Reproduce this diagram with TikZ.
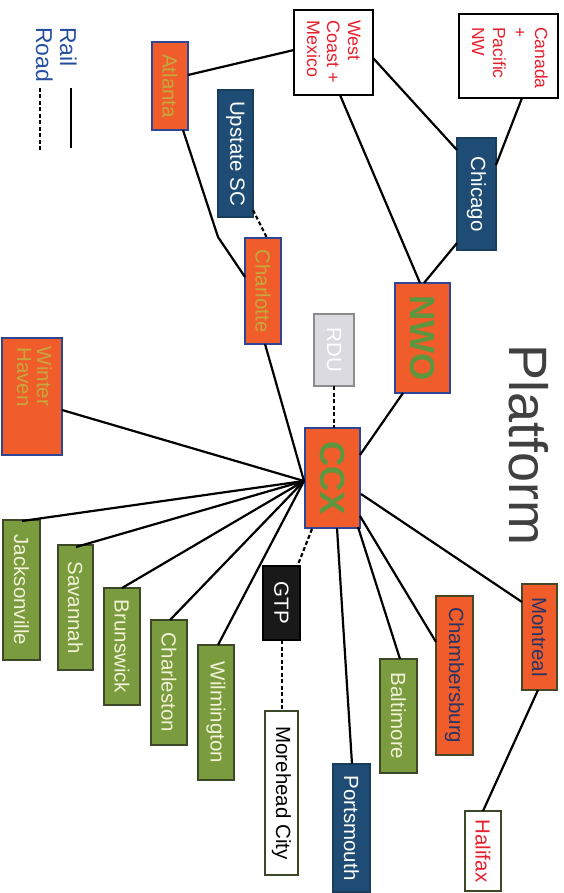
\documentclass[tikz,border=0pt]{standalone}
\usepackage{fontspec}
\setmainfont{Liberation Sans}
\usetikzlibrary{calc}
\definecolor{orng}{RGB}{240,92,42}
\definecolor{bordblue}{RGB}{45,70,150}
\definecolor{gold}{RGB}{196,168,62}
\definecolor{hubgreen}{RGB}{92,150,62}
\definecolor{boxgreen}{RGB}{122,155,62}
\definecolor{greenborder}{RGB}{60,72,40}
\definecolor{cream}{RGB}{242,242,215}
\definecolor{navy}{RGB}{30,76,116}
\definecolor{navytxt}{RGB}{42,52,100}
\definecolor{olivebord}{RGB}{70,70,40}
\definecolor{redtxt}{RGB}{230,32,45}
\definecolor{legblue}{RGB}{40,80,160}
\definecolor{rdufill}{RGB}{218,218,224}
\begin{document}
\begin{tikzpicture}[x=1pt,y=1pt,
  box/.style={rotate=-90, draw, inner sep=0pt, line width=1.5pt, font=\fontsize{20.5}{24}\selectfont},
  orangebox/.style={box, fill=orng, draw=bordblue, text=gold},
  hubbox/.style={box, fill=orng, draw=bordblue, text=hubgreen, font=\fontsize{35}{40}\selectfont\bfseries},
  greenbox/.style={box, fill=boxgreen, draw=greenborder, text=cream},
  navybox/.style={box, fill=navy, draw=navy!80!black, text=white},
  whitebox/.style={box, fill=white, draw=black},
  sz/.style 2 args={minimum width=#1, minimum height=#2},
  linetxt/.style={rotate=-90, inner sep=0pt},
  rail/.style={line width=2.2pt, draw=black},
  road/.style={rail, dash pattern=on 4pt off 2.5pt}
]
\useasboundingbox (0,0) rectangle (563,-893);
\fill[white] (0,0) rectangle (563,-893);

% legend
\node[linetxt, text=legblue, anchor=base west] (railtxt) at (60,-27) {\fontsize{23}{24}\selectfont Rail};
\node[linetxt, text=legblue, anchor=base west] (roadtxt) at (36,-27) {\fontsize{23}{24}\selectfont Road};
\coordinate (rl1) at (71,-88); \coordinate (rl2) at (71,-148);
\coordinate (rd1) at (40,-88); \coordinate (rd2) at (40,-150);
\draw[rail] (rl1) -- (rl2);
\draw[road] (rd1) -- (rd2);

% title
\node[linetxt, text=black!75] (plat) at (529,-445) {\fontsize{54}{60}\selectfont Platform};

% nodes
\node[orangebox, sz={88}{36}] (atl) at (170,-86) {Atlanta};
\node[navybox, sz={127}{35}] (ups) at (235.5,-153.5) {Upstate SC};
\node[whitebox, sz={85}{79}] (wcm) at (333.5,-52.5) {};
\node[linetxt, anchor=base west, text=redtxt] (wcm1) at (348,-20) {\fontsize{18}{21}\selectfont West};
\node[linetxt, anchor=base west, text=redtxt] (wcm2) at (327,-20) {\fontsize{18}{21}\selectfont Coast +};
\node[linetxt, anchor=base west, text=redtxt] (wcm3) at (307,-20) {\fontsize{18}{21}\selectfont Mexico};
\node[whitebox, sz={84}{99}] (can) at (508.5,-56) {};
\node[linetxt, anchor=base west, text=redtxt] (can1) at (535,-27) {\fontsize{17.5}{21}\selectfont Canada};
\node[linetxt, anchor=base west, text=redtxt] (can2) at (514,-27) {\fontsize{17.5}{21}\selectfont +};
\node[linetxt, anchor=base west, text=redtxt] (can3) at (493,-27) {\fontsize{17.5}{21}\selectfont Pacific};
\node[linetxt, anchor=base west, text=redtxt] (can4) at (472,-27) {\fontsize{17.5}{21}\selectfont NW};
\node[navybox, sz={112}{39}] (chi) at (476.5,-194) {Chicago};
\node[hubbox, sz={110}{55}] (nwo) at (422.5,-338) {NWO};
\node[box, sz={72}{40}, fill=rdufill, draw=black!45, text=white] (rdu) at (334,-350) {RDU};
\node[orangebox, sz={106}{36}] (cha) at (263,-291) {Charlotte};
\node[hubbox, sz={100}{55}] (ccx) at (332.5,-478) {CCX};
\node[orangebox, sz={117}{60}] (wh) at (32,-396.5) {};
\node[linetxt, anchor=base, text=gold] (wh1) at (37,-376.5) {\fontsize{20.5}{20}\selectfont Winter};
\node[linetxt, anchor=base, text=gold] (wh2) at (17,-377) {\fontsize{20.5}{20}\selectfont Haven};
\node[greenbox, sz={140}{37}] (jax) at (21.5,-590) {Jacksonville};
\node[greenbox, sz={125}{35}] (sav) at (75.5,-607.5) {Savannah};
\node[greenbox, sz={117}{36}] (bru) at (122,-646.5) {Brunswick};
\node[greenbox, sz={125}{36}] (chs) at (169,-682.5) {Charleston};
\node[greenbox, sz={135}{36}] (wil) at (216,-712.5) {Wilmington};
\node[box, sz={74}{37}, fill=black!90, draw=black, text=white] (gtp) at (281.5,-603) {GTP};
\node[whitebox, sz={164}{33}, draw=greenborder] (mhc) at (281.5,-793) {Morehead City};
\node[navybox, sz={128}{37}] (por) at (351.5,-828) {Portsmouth};
\node[greenbox, sz={114}{37}] (bal) at (398.5,-716) {Baltimore};
\node[box, sz={159}{37}, fill=orng, draw=olivebord, text=navytxt] (chb) at (454.5,-675.5) {Chambersburg};
\node[box, sz={106}{35}, fill=orng, draw=olivebord, text=navytxt] (mon) at (539.5,-637) {Montreal};
\node[whitebox, sz={80}{36}, draw=greenborder, text=redtxt] (hal) at (483,-851) {Halifax};

% connectors
\coordinate (hub) at ($(ccx)+(-28.5,-3)$);
\coordinate (bend) at (218,-237);
\draw[rail] ($(atl)+(18,11)$) -- ($(wcm)+(-39.5,2.5)$);
\draw[rail] ($(atl)+(13,-44)$) -- (bend) -- ($(cha)+(-18,14)$);
\draw[road] ($(ups)+(17.5,-56.5)$) -- ($(cha)+(4,53)$);
\draw[rail] ($(wcm)+(39.5,-5.5)$) -- ($(chi)+(-19.5,44)$);
\draw[rail] ($(wcm)+(6.5,-42.5)$) -- ($(nwo)+(-2.5,55)$);
\draw[rail] ($(can)+(13.5,-42)$) -- ($(chi)+(19.5,29)$);
\draw[rail] ($(chi)+(-19.5,-49)$) -- ($(nwo)+(1.5,55)$);
\draw[rail] ($(nwo)+(-19.5,-55)$) -- ($(ccx)+(27.5,23)$);
\draw[road] ($(rdu)+(0,-36)$) -- ($(ccx)+(1.5,50)$);
\draw[rail] ($(cha)+(2,-53)$) -- (hub);
\draw[rail] ($(wh)+(30,-13.5)$) -- (hub);
\draw[rail] ($(jax)+(0.5,69)$) -- (hub);
\draw[rail] ($(sav)+(0.5,60.5)$) -- (hub);
\draw[rail] ($(bru)+(0,58.5)$) -- (hub);
\draw[rail] ($(chs)+(1,62.5)$) -- (hub);
\draw[rail] ($(wil)+(2,67.5)$) -- (hub);
\draw[road] ($(ccx)+(-20.5,-51)$) -- ($(gtp)+(15.5,36)$);
\draw[road] ($(gtp)+(0.5,-37)$) -- ($(mhc)+(0.5,82)$);
\draw[rail] ($(ccx)+(4.5,-50)$) -- ($(por)+(0.5,64)$);
\draw[rail] ($(ccx)+(25.5,-49)$) -- ($(bal)+(1.5,57)$);
\draw[rail] ($(ccx)+(27.5,-38)$) -- ($(chb)+(-18.5,33.5)$);
\draw[rail] ($(ccx)+(28.5,-16)$) -- ($(mon)+(-17.5,35)$);
\draw[rail] ($(mon)+(-1.5,-53)$) -- ($(hal)+(0,40)$);
\end{tikzpicture}
\end{document}
